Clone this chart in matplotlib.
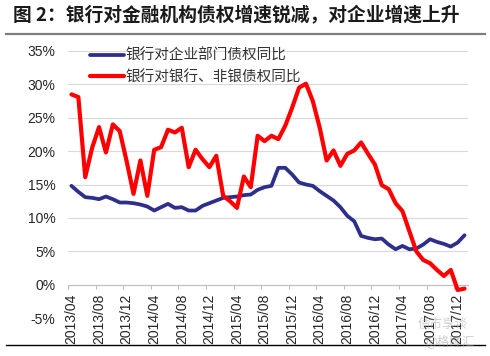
import matplotlib
matplotlib.use('Agg')
import matplotlib.pyplot as plt
from matplotlib.lines import Line2D
import numpy as np
import pandas as pd

plt.rcParams['font.family'] = ['Noto Sans CJK SC', 'DejaVu Sans']

# monthly categories 2013/04 .. 2018/01
months = pd.date_range('2013-04-01', periods=58, freq='MS').strftime('%Y/%m').tolist()

# 银行对企业部门债权同比 (%)
corp_yoy = [14.8, 13.9, 13.1, 13.0, 12.8, 13.2, 12.8, 12.3, 12.3, 12.2,
            12.0, 11.7, 11.1, 11.6, 12.1, 11.5, 11.6, 11.1, 11.1, 11.8,
            12.2, 12.6, 13.0, 13.1, 13.2, 13.4, 13.5, 14.2, 14.6, 14.8,
            17.5, 17.5, 16.5, 15.3, 15.0, 14.8, 14.0, 13.3, 12.6, 11.6,
            10.3, 9.5, 7.3, 7.0, 6.8, 6.9, 6.0, 5.3, 5.8, 5.3,
            5.4, 6.0, 6.8, 6.4, 6.1, 5.7, 6.3, 7.4]

# 银行对银行、非银债权同比 (%)
fin_yoy = [28.5, 28.1, 16.1, 20.5, 23.6, 19.8, 24.0, 23.0, 18.5, 13.6,
           18.6, 13.3, 20.2, 20.6, 23.2, 22.8, 23.5, 17.6, 20.2, 18.8,
           17.6, 19.3, 13.3, 12.5, 11.5, 16.2, 14.6, 22.3, 21.5, 22.3,
           21.8, 23.8, 26.5, 29.5, 30.1, 27.5, 23.5, 18.6, 20.1, 17.8,
           19.6, 20.1, 21.3, 19.6, 18.0, 14.9, 14.3, 12.2, 11.0, 8.0,
           5.0, 3.7, 3.2, 2.2, 1.3, 2.2, -0.8, -0.6]

yticks = [-5, 0, 5, 10, 15, 20, 25, 30, 35]
ytick_labels = ['-5%', '0%', '5%', '10%', '15%', '20%', '25%', '30%', '35%']

W, H = 490, 356
fig = plt.figure(figsize=(W / 100, H / 100), dpi=100)
ax = fig.add_axes([68 / W, 1 - 318 / H, 400 / W, 267 / H])

# spine position first: it resets the tick setup
for s in ['top', 'right', 'left']:
    ax.spines[s].set_visible(False)
ax.spines['bottom'].set_position(('data', 0))
ax.spines['bottom'].set_color('#BFBFBF')
ax.spines['bottom'].set_linewidth(0.8)

x = np.arange(len(months))
ax.plot(x, corp_yoy, color='#2E2E8C', lw=2.7, solid_joinstyle='round',
        solid_capstyle='round', label='银行对企业部门债权同比', zorder=3)
ax.plot(x, fin_yoy, color='#FF0000', lw=3.0, solid_joinstyle='round',
        solid_capstyle='round', label='银行对银行、非银债权同比', zorder=4)

ax.set_xlim(-0.5, len(months) - 0.5)
ax.set_ylim(-5, 35)
ax.set_yticks(yticks)
ax.set_yticklabels(ytick_labels, family=['Liberation Sans'], fontsize=10, color='#262626')
ax.yaxis.grid(True, color='#D9D9D9', lw=0.8)
ax.set_axisbelow(True)

# labels at every 4th category, tick marks at category boundaries
ax.set_xticks(x[::4])
ax.set_xticklabels(months[::4], rotation=90, family=['Liberation Sans'],
                   fontsize=10, color='#262626')
ax.set_xticks(np.arange(-0.5, len(months), 4), minor=True)
ax.tick_params(axis='x', which='major', length=0, pad=6.5)
ax.tick_params(axis='x', which='minor', length=3, color='#BFBFBF', width=0.8)
ax.tick_params(axis='y', length=0, pad=9)

leg = ax.legend(loc='upper left', bbox_to_anchor=(90 / W, 1 - 49 / H),
                bbox_transform=fig.transFigure, frameon=False, fontsize=10.5,
                handlelength=2.3, handletextpad=0.15, labelspacing=0.5,
                borderpad=0, borderaxespad=0)
for t in leg.get_texts():
    t.set_color('#333333')

fig.text(13 / W, 1 - 16 / H, '图 2：银行对金融机构债权增速锐减，对企业增速上升',
         fontsize=13.5, fontweight='bold', va='center', ha='left', color='#1a1a1a')

fig.add_artist(Line2D([6 / W, 485 / W], [1 - 34 / H, 1 - 34 / H],
                      transform=fig.transFigure, color='#7F7F7F', lw=1.6))
fig.add_artist(Line2D([6 / W, 485 / W], [1 - 345 / H, 1 - 345 / H],
                      transform=fig.transFigure, color='#000000', lw=1.0))

# faint watermark
fig.text(443 / W, 1 - 324 / H, '债市享谈', fontsize=9, color='#A0A0A0', alpha=0.5,
         ha='center', va='center')
fig.text(450 / W, 1 - 341 / H, '@格隆汇', fontsize=9, color='#A0A0A0', alpha=0.5,
         ha='center', va='center')

fig.savefig('out.png', dpi=100)
